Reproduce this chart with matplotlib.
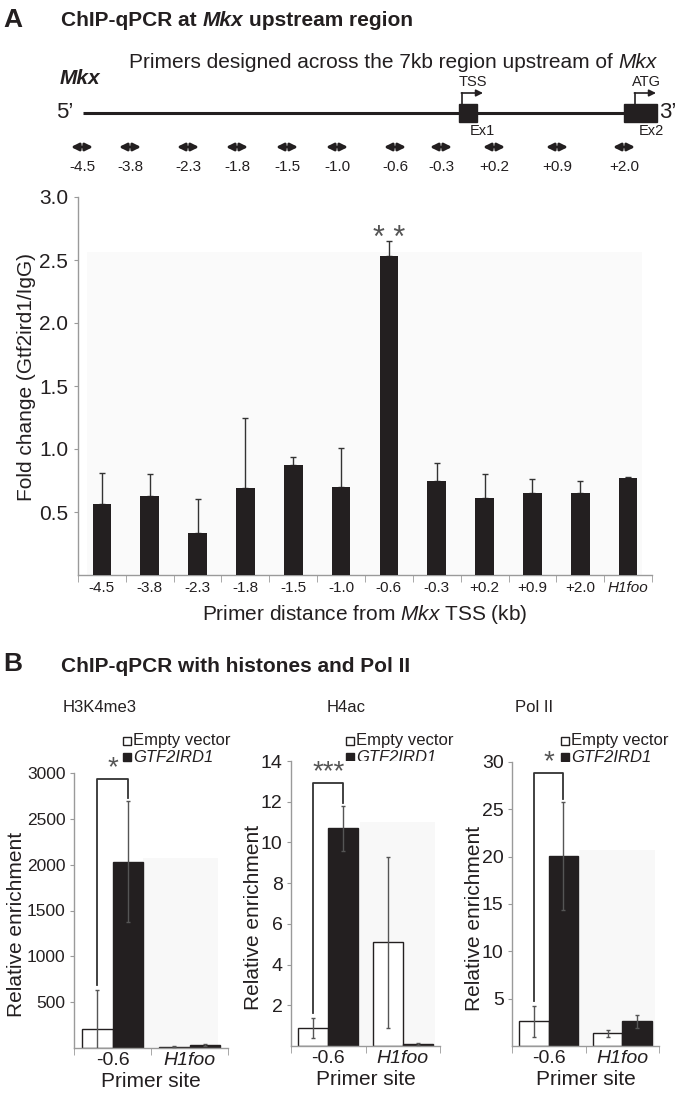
import matplotlib
matplotlib.use('Agg')
import matplotlib.pyplot as plt
from matplotlib.patches import Rectangle
import numpy as np

plt.rcParams['font.family'] = ['Liberation Sans', 'DejaVu Sans']
plt.rcParams['mathtext.fontset'] = 'custom'
plt.rcParams['mathtext.rm'] = 'Liberation Sans'
plt.rcParams['mathtext.it'] = 'Liberation Sans:italic'

# ---------------- data ----------------
# Panel A
primers = ['-4.5', '-3.8', '-2.3', '-1.8', '-1.5', '-1.0', '-0.6', '-0.3', '+0.2', '+0.9', '+2.0', 'H1foo']
fold_change = [0.56, 0.63, 0.33, 0.69, 0.87, 0.70, 2.53, 0.75, 0.61, 0.65, 0.65, 0.77]
fold_err = [0.25, 0.17, 0.27, 0.56, 0.07, 0.31, 0.12, 0.14, 0.19, 0.11, 0.10, 0.01]
yticks_A = [0.5, 1.0, 1.5, 2.0, 2.5, 3.0]
diagram_primers = primers[:-1]

# Panel B
sites = ['-0.6', 'H1foo']
groups = ['Empty vector', 'GTF2IRD1']
h3k4_empty = [210, 12]
h3k4_empty_err = [420, 5]
h3k4_gtf = [2030, 35]
h3k4_gtf_err = [660, 12]
h4ac_empty = [0.9, 5.1]
h4ac_empty_err = [0.5, 4.2]
h4ac_gtf = [10.7, 0.1]
h4ac_gtf_err = [1.1, 0.05]
pol_empty = [2.6, 1.35]
pol_empty_err = [1.6, 0.35]
pol_gtf = [20.1, 2.6]
pol_gtf_err = [5.7, 0.7]
yticks_h3k4 = [500, 1000, 1500, 2000, 2500, 3000]
yticks_h4ac = [2, 4, 6, 8, 10, 12, 14]
yticks_pol = [5, 10, 15, 20, 25, 30]

# ---------------- layout helpers ----------------
W, H = 680, 1096
BLACK = '#231f20'
GREY = '#9a9a9a'
fig = plt.figure(figsize=(W / 100, H / 100), dpi=100)
fig.patch.set_facecolor('white')


def rect(l, t, r, b):
    return [l / W, 1 - b / H, (r - l) / W, (b - t) / H]


ov = fig.add_axes([0, 0, 1, 1])
ov.set_xlim(0, W)
ov.set_ylim(H, 0)
ov.axis('off')
renderer = fig.canvas.get_renderer()


def rich(x, y, segs, fontsize, ha='left', color=BLACK):
    texts, widths = [], []
    for s, kw in segs:
        t = ov.text(0, y, s, va='center', ha='left', fontsize=fontsize, color=color, **kw)
        texts.append(t)
        widths.append(t.get_window_extent(renderer=renderer).width)
    gap = 0.278 * fontsize * 100 / 72
    total = sum(widths) + gap * (len(segs) - 1)
    x0 = x if ha == 'left' else (x - total / 2 if ha == 'center' else x - total)
    for t, w in zip(texts, widths):
        t.set_x(x0)
        x0 += w + gap


# ---------------- Panel A header & gene diagram ----------------
ov.text(3, 20, 'A', fontsize=19, fontweight='bold', va='center', color=BLACK)
rich(61, 21, [('ChIP-qPCR at', dict(fontweight='bold')),
              ('Mkx', dict(fontweight='bold', fontstyle='italic')),
              ('upstream region', dict(fontweight='bold'))], fontsize=15)
rich(393, 63, [('Primers designed across the 7kb region upstream of', {}),
               ('Mkx', dict(fontstyle='italic'))], fontsize=15, ha='center')
ov.text(60, 79, 'Mkx', fontsize=15, fontweight='bold', fontstyle='italic', va='center', color=BLACK)
ov.text(56, 113, '5\u2019', fontsize=16, va='center', color=BLACK)
ov.text(659, 113, '3\u2019', fontsize=16, va='center', color=BLACK)
ov.plot([83, 626], [113, 113], color=BLACK, lw=2.2, solid_capstyle='butt')
ov.add_patch(Rectangle((459, 104), 18, 18, color=BLACK))
ov.add_patch(Rectangle((624, 104), 33, 18, color=BLACK))
for xs, lab in [(462, 'TSS'), (635, 'ATG')]:
    ov.plot([xs, xs], [104, 93], color=BLACK, lw=1.2)
    ov.annotate('', xy=(xs + 21, 93), xytext=(xs - 0.6, 93),
                arrowprops=dict(arrowstyle='-|>', color=BLACK, lw=1.2, mutation_scale=10,
                                shrinkA=0, shrinkB=0))
    ov.text(xs + 11, 82, lab, fontsize=10.5, ha='center', va='center', color=BLACK)
ov.text(482, 131, 'Ex1', fontsize=10.5, ha='center', va='center', color=BLACK)
ov.text(651, 131, 'Ex2', fontsize=10.5, ha='center', va='center', color=BLACK)
diagram_x = [82, 130, 188, 237, 287, 337, 395, 441, 494, 557, 624]
for xp, lab in zip(diagram_x, diagram_primers):
    ov.annotate('', xy=(xp + 11, 147), xytext=(xp - 11, 147),
                arrowprops=dict(arrowstyle='<|-|>', color=BLACK, lw=2, mutation_scale=11,
                                shrinkA=0, shrinkB=0))
    ov.text(xp, 167, lab, fontsize=11, ha='center', va='center', color=BLACK)

# ---------------- Panel A bar chart ----------------
axA = fig.add_axes(rect(78, 197, 652, 575))
xA = np.arange(len(primers))
axA.add_patch(Rectangle((-0.31, 0), 11.6, 2.56, color='#fafafa', zorder=0, lw=0))
axA.bar(xA, fold_change, width=0.39, color=BLACK, zorder=3)
axA.errorbar(xA, fold_change, yerr=[np.zeros(len(xA)), fold_err], fmt='none',
             ecolor='#333333', elinewidth=1, capsize=2.5, capthick=1, zorder=2)
axA.set_xlim(-0.5, len(primers) - 0.5)
axA.set_ylim(0, 3.0)
for s in ['top', 'right']:
    axA.spines[s].set_visible(False)
for s in ['left', 'bottom']:
    axA.spines[s].set_color(GREY)
    axA.spines[s].set_linewidth(1)
axA.set_yticks(yticks_A)
axA.set_yticklabels(['%.1f' % v for v in yticks_A], fontsize=15, color=BLACK)
axA.tick_params(axis='y', length=3, color=GREY, pad=4)
axA.set_xticks(xA)
axA.set_xticklabels(primers, fontsize=11, color=BLACK)
axA.get_xticklabels()[-1].set_fontstyle('italic')
axA.tick_params(axis='x', which='major', length=0, pad=4)
axA.set_xticks(np.arange(-0.5, len(primers), 1), minor=True)
axA.tick_params(axis='x', which='minor', length=5, color=GREY)
axA.set_ylabel('Fold change (Gtf2ird1/IgG)', fontsize=15, color=BLACK)
axA.yaxis.set_label_coords((36 - 78) / 574, (575 - 377) / 378)
axA.set_xlabel('Primer distance from $\\mathit{Mkx}$ TSS (kb)', fontsize=15, color=BLACK, labelpad=6)
imax = int(np.argmax(fold_change))
axA.annotate('* *', xy=(imax, fold_change[imax] + fold_err[imax]), xytext=(0, -9),
             textcoords='offset points', ha='center', va='bottom', fontsize=22, color='#555555')

# ---------------- Panel B ----------------
ov.text(3, 664, 'B', fontsize=19, fontweight='bold', va='center', color=BLACK)
ov.text(61, 666, 'ChIP-qPCR with histones and Pol II', fontsize=15, fontweight='bold',
        va='center', color=BLACK)

panels = [
    dict(title='H3K4me3', box=(74, 773, 228, 1048), ylim=3000, yt=yticks_h3k4,
         empty=h3k4_empty, eerr=h3k4_empty_err, gtf=h3k4_gtf, gerr=h3k4_gtf_err,
         shade=(0.40, 1.37, 2075), star='*', bracket=2930, tfs=12.5, title_x=100, leg_x=127,
         ylx=26),
    dict(title='H4ac', box=(291, 761, 440, 1046), ylim=14, yt=yticks_h4ac,
         empty=h4ac_empty, eerr=h4ac_empty_err, gtf=h4ac_gtf, gerr=h4ac_gtf_err,
         shade=(0.43, 1.43, 11.0), star='***', bracket=12.9, tfs=14, title_x=346, leg_x=350,
         ylx=263),
    dict(title='Pol II', box=(512, 762, 659, 1046), ylim=30, yt=yticks_pol,
         empty=pol_empty, eerr=pol_empty_err, gtf=pol_gtf, gerr=pol_gtf_err,
         shade=(0.41, 1.45, 20.7), star='*', bracket=28.8, tfs=14, title_x=534, leg_x=565,
         ylx=484),
]
xB = np.arange(len(sites))
bw = 0.4
for p in panels:
    l, t, r, b = p['box']
    ax = fig.add_axes(rect(l, t, r, b))
    ax.add_patch(Rectangle((p['shade'][0], 0), p['shade'][1] - p['shade'][0], p['shade'][2],
                           color='#f8f8f8', zorder=0, lw=0))
    ax.bar(xB - bw / 2, p['empty'], width=bw, color='white', edgecolor=BLACK, linewidth=1, zorder=2)
    ax.bar(xB + bw / 2, p['gtf'], width=bw, color=BLACK, edgecolor=BLACK, linewidth=1, zorder=2)
    ax.errorbar(xB - bw / 2, p['empty'], yerr=p['eerr'], fmt='none', ecolor='#555555',
                elinewidth=1, capsize=1.5, capthick=1, zorder=3)
    ax.errorbar(xB + bw / 2, p['gtf'], yerr=p['gerr'], fmt='none', ecolor='#555555',
                elinewidth=1, capsize=1.5, capthick=1, zorder=3)
    ax.set_xlim(-0.5, len(sites) - 0.5)
    ax.set_ylim(0, p['ylim'])
    for s in ['top', 'right']:
        ax.spines[s].set_visible(False)
    for s in ['left', 'bottom']:
        ax.spines[s].set_color(GREY)
        ax.spines[s].set_linewidth(1)
    ax.set_yticks(p['yt'])
    ax.set_yticklabels([str(v) for v in p['yt']], fontsize=p['tfs'], color=BLACK)
    ax.tick_params(axis='y', length=3, color=GREY, pad=3)
    ax.set_xticks(xB)
    ax.set_xticklabels(sites, fontsize=14, color=BLACK)
    ax.get_xticklabels()[-1].set_fontstyle('italic')
    ax.tick_params(axis='x', which='major', length=0, pad=3)
    ax.set_xticks(np.arange(-0.5, len(sites), 1), minor=True)
    ax.tick_params(axis='x', which='minor', length=5, color=GREY)
    ax.set_xlabel('Primer site', fontsize=15, color=BLACK, labelpad=2)
    ax.set_ylabel('Relative enrichment', fontsize=15, color=BLACK)
    ax.yaxis.set_label_coords((p['ylx'] - l) / (r - l), 0.45)
    # significance bracket
    ppy = p['ylim'] / (b - t)  # data units per pixel
    y_l = p['empty'][0] + p['eerr'][0] + 5 * ppy
    y_r = p['gtf'][0] + p['gerr'][0] + 3 * ppy
    x_l, x_r = xB[0] - bw / 2, xB[0] + bw / 2
    ax.plot([x_l, x_l, x_r, x_r], [y_l, p['bracket'], p['bracket'], y_r], color='#333333',
            lw=1.3, clip_on=False, zorder=4)
    ax.text((x_l + x_r) / 2, p['bracket'] - 2 * ppy, p['star'], ha='center', va='bottom',
            fontsize=20, color='#555555', clip_on=False)
    # title and legend
    ov.text(p['title_x'], 708, p['title'], fontsize=12, ha='center', va='center', color=BLACK)
    ov.plot([p['leg_x']], [741], marker='s', ms=6, mfc='white', mec=BLACK, mew=1)
    ov.plot([p['leg_x']], [757], marker='s', ms=6, mfc=BLACK, mec=BLACK, mew=1)
    ov.text(p['leg_x'] + 6, 741, groups[0], fontsize=12, va='center', color=BLACK)
    ov.text(p['leg_x'] + 6, 757, groups[1], fontsize=12, va='center', color=BLACK,
            fontstyle='italic')

fig.savefig('out.png', dpi=100, facecolor='white')
